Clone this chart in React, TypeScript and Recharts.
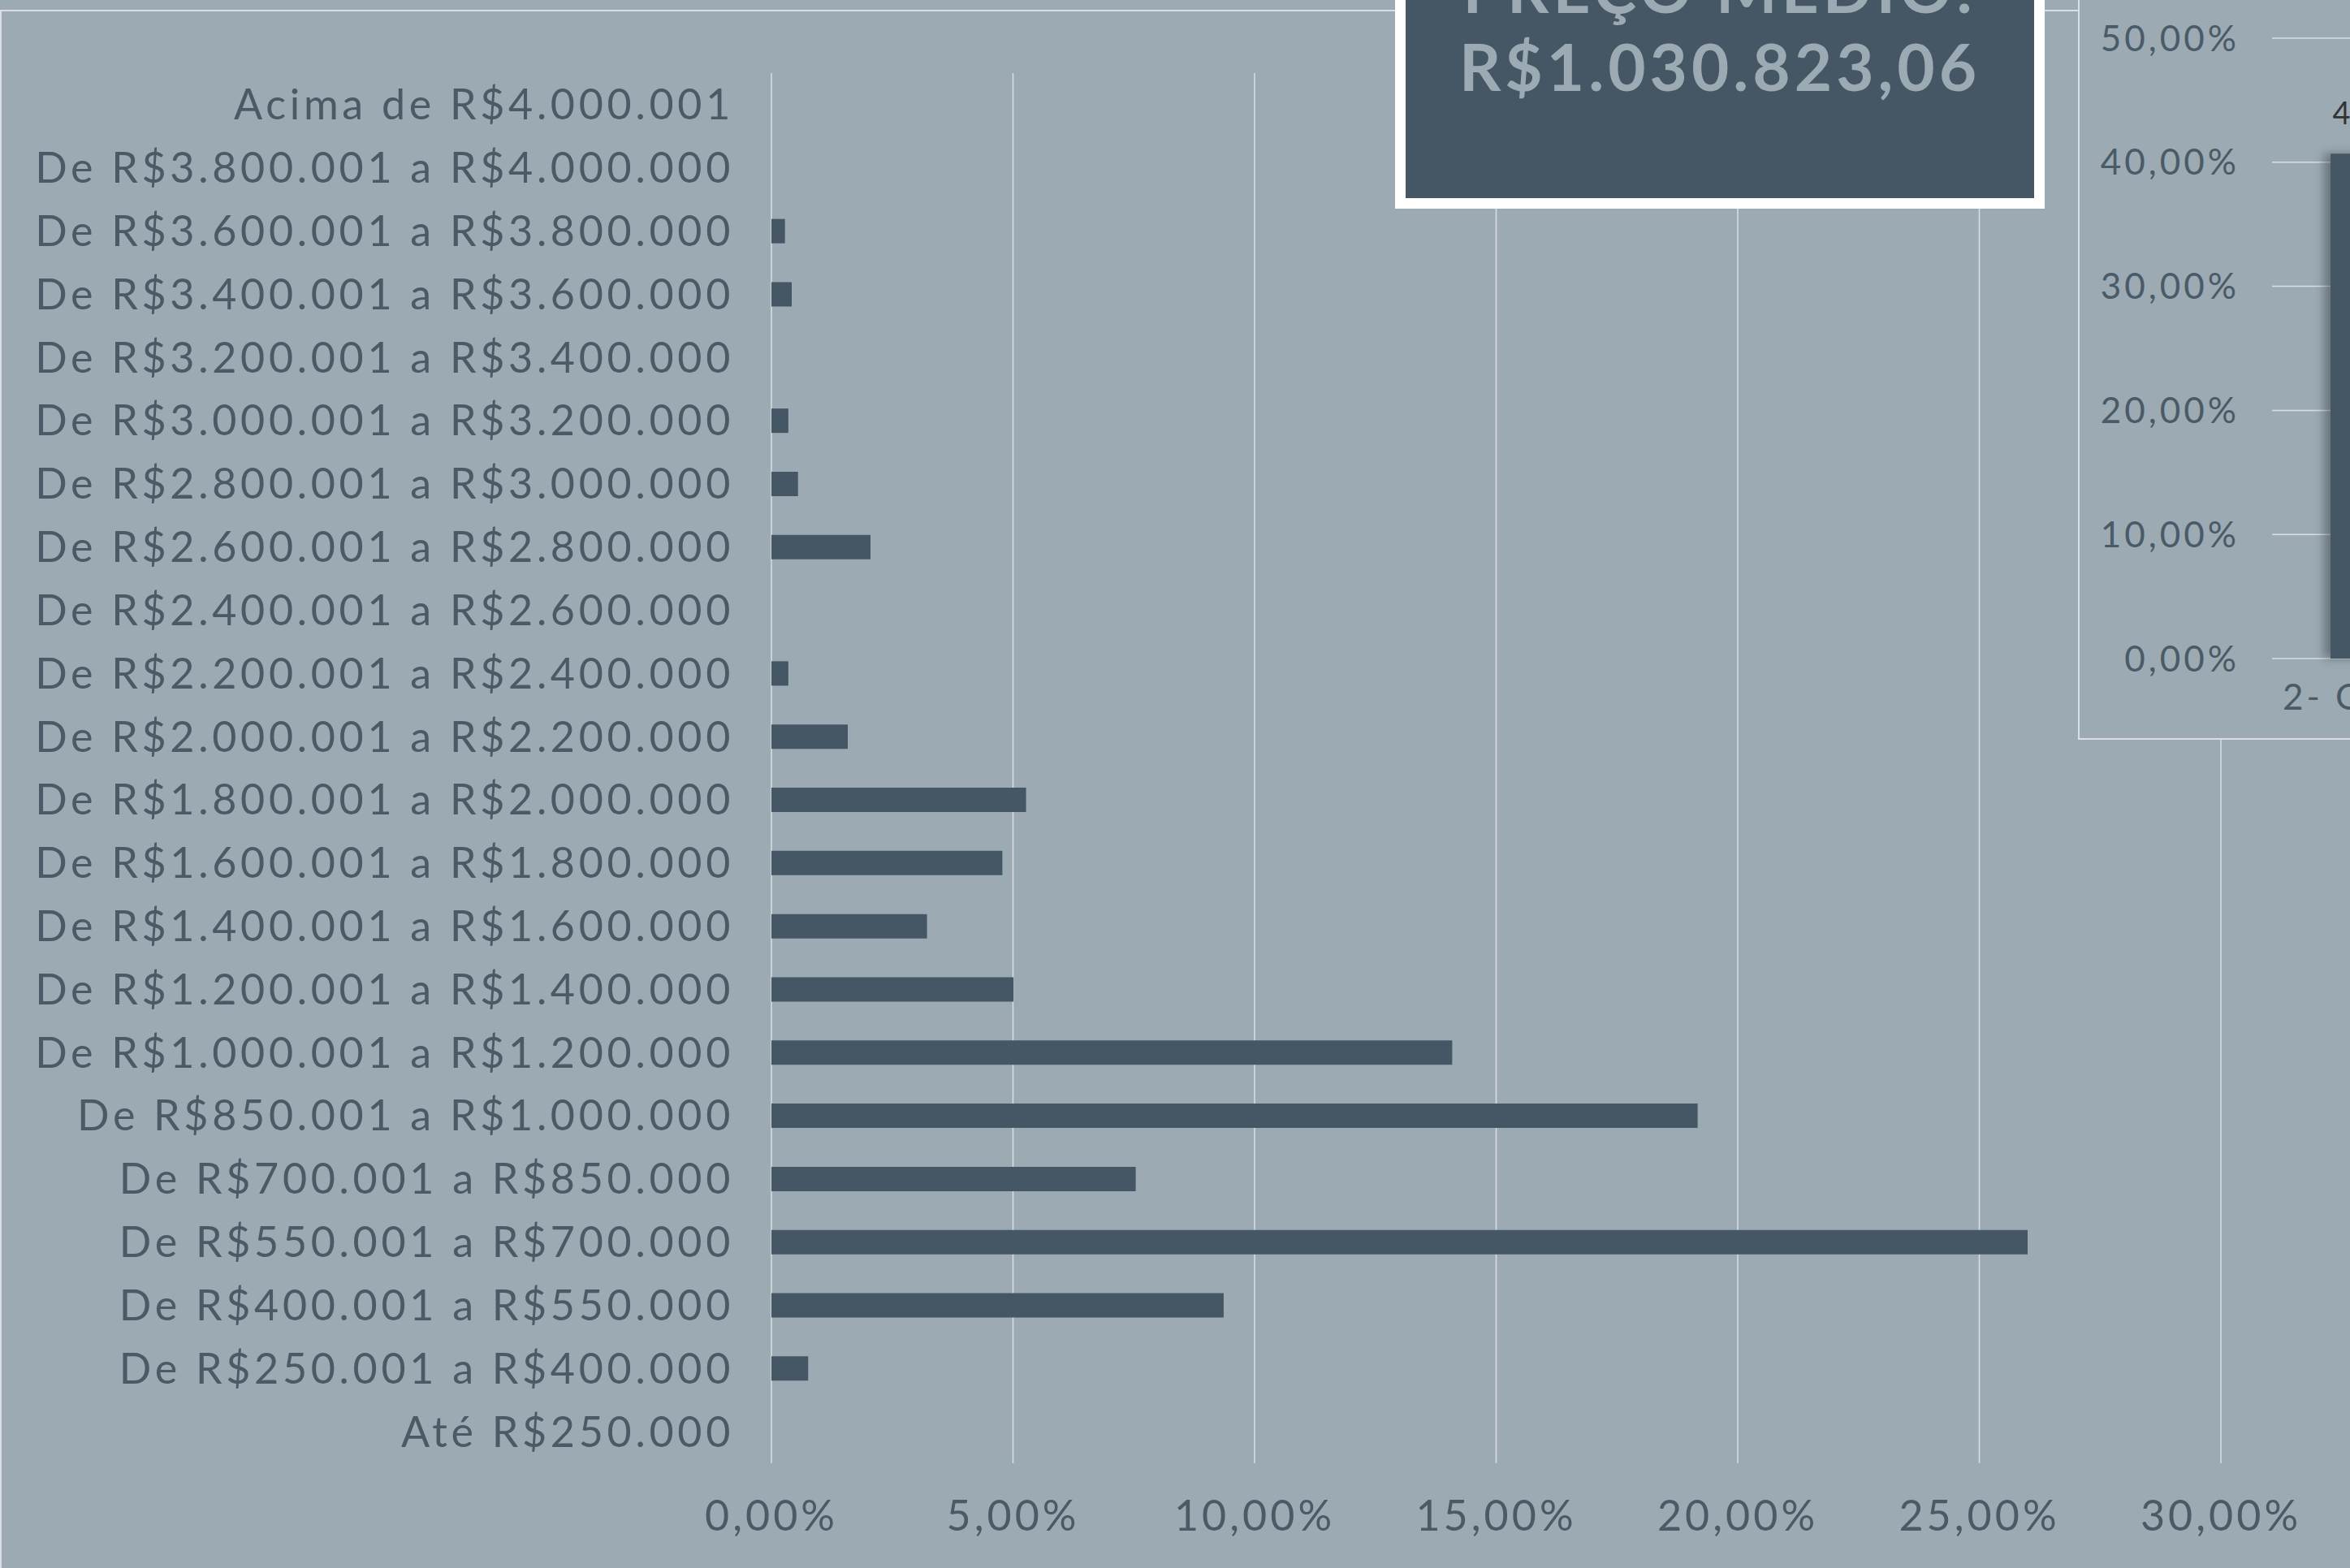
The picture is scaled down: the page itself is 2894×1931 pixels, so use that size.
import { Bar, BarChart, CartesianGrid, LabelList, XAxis, YAxis } from "recharts";

const faixas = [
  "Acima de R$4.000.001",
  "De R$3.800.001 a R$4.000.000",
  "De R$3.600.001 a R$3.800.000",
  "De R$3.400.001 a R$3.600.000",
  "De R$3.200.001 a R$3.400.000",
  "De R$3.000.001 a R$3.200.000",
  "De R$2.800.001 a R$3.000.000",
  "De R$2.600.001 a R$2.800.000",
  "De R$2.400.001 a R$2.600.000",
  "De R$2.200.001 a R$2.400.000",
  "De R$2.000.001 a R$2.200.000",
  "De R$1.800.001 a R$2.000.000",
  "De R$1.600.001 a R$1.800.000",
  "De R$1.400.001 a R$1.600.000",
  "De R$1.200.001 a R$1.400.000",
  "De R$1.000.001 a R$1.200.000",
  "De R$850.001 a R$1.000.000",
  "De R$700.001 a R$850.000",
  "De R$550.001 a R$700.000",
  "De R$400.001 a R$550.000",
  "De R$250.001 a R$400.000",
  "Até R$250.000",
];

// % of units per price range
const percentuais = [
  0, 0, 0.28, 0.42, 0, 0.35, 0.55, 2.05, 0, 0.35, 1.58, 5.27, 4.78, 3.22,
  5.01, 14.09, 19.17, 7.54, 26.0, 9.36, 0.76, 0,
];

const xTicks = [0, 5, 10, 15, 20, 25, 30];

const tipologias = ["2- Quartos"];
const tipologiaPct = [40.69];
const yTicksTipologia = [0, 10, 20, 30, 40, 50];

const precoMedio = "R$1.030.823,06";

const BG = "#9caab3";
const DARK = "#455764";
const TEXT = "#4a5b67";
const GRID = "#d9dfe3";

const pct = (v: number) => v.toFixed(2).replace(".", ",") + "%";

const faixaData = faixas.map((name, i) => ({ name, value: percentuais[i] }));
const tipoData = tipologias.map((name, i) => ({ name, value: tipologiaPct[i] }));

const ShadowBar = (props: any) => {
  const { x, y, width, height, fill } = props;
  if (!height || height <= 0) return null;
  return (
    <rect
      x={x}
      y={y}
      width={width}
      height={height}
      fill={fill}
      style={{ filter: "drop-shadow(-8px 0px 6px rgba(40,50,60,0.45))" }}
    />
  );
};

export default function App() {
  return (
    <div
      style={{
        position: "absolute",
        left: 0,
        top: 0,
        width: 2894,
        height: 1931,
        overflow: "hidden",
        background: BG,
        fontFamily: "Lato, sans-serif",
      }}
    >
      {/* main chart frame */}
      <div
        style={{
          position: "absolute",
          left: 0,
          top: 12,
          width: 2600,
          height: 1950,
          borderTop: `2px solid ${GRID}`,
          borderLeft: `2px solid ${GRID}`,
        }}
      />

      <div style={{ position: "absolute", left: 0, top: 0 }}>
        <BarChart
          width={2894}
          height={1931}
          data={faixaData}
          layout="vertical"
          margin={{ top: 90, right: 159, bottom: 59, left: 0 }}
          barCategoryGap={0}
        >
          <CartesianGrid horizontal={false} stroke={GRID} strokeWidth={1.5} />
          <XAxis
            type="number"
            domain={[0, 30]}
            ticks={xTicks}
            tickFormatter={pct}
            axisLine={false}
            tickLine={false}
            tickMargin={40}
            height={70}
            tick={{ fill: TEXT, fontSize: 52, fontWeight: 400, letterSpacing: 4 }}
          />
          <YAxis
            type="category"
            dataKey="name"
            width={950}
            interval={0}
            axisLine={false}
            tickLine={false}
            tickMargin={40}
            tick={{ fill: TEXT, fontSize: 52, fontWeight: 400, letterSpacing: 4.7 }}
          />
          <Bar dataKey="value" fill={DARK} barSize={30} isAnimationActive={false} />
        </BarChart>
      </div>

      {/* price box */}
      <div
        style={{
          position: "absolute",
          left: 1718,
          top: -120,
          width: 800,
          height: 377,
          boxSizing: "border-box",
          border: "13px solid #ffffff",
          background: DARK,
        }}
      />
      <div
        style={{
          position: "absolute",
          left: 1731,
          top: -63,
          width: 774,
          textAlign: "center",
          fontSize: 80,
          lineHeight: "96px",
          fontWeight: 700,
          color: BG,
          letterSpacing: 5,
        }}
      >
        <div>PREÇO MÉDIO:</div>
        <div>{precoMedio}</div>
      </div>

      {/* right panel */}
      <div
        style={{
          position: "absolute",
          left: 2559,
          top: -10,
          width: 600,
          height: 921,
          boxSizing: "border-box",
          borderLeft: `2px solid ${GRID}`,
          borderBottom: `2px solid ${GRID}`,
          background: BG,
        }}
      />
      <div style={{ position: "absolute", left: 2562, top: 0 }}>
        <BarChart
          width={538}
          height={910}
          data={tipoData}
          margin={{ top: 47, right: 26, bottom: 39, left: 0 }}
        >
          <CartesianGrid vertical={false} stroke={GRID} strokeWidth={1.5} />
          <XAxis
            dataKey="name"
            axisLine={false}
            tickLine={false}
            tickMargin={26}
            height={60}
            tick={{ fill: TEXT, fontSize: 44, fontWeight: 400, letterSpacing: 4 }}
          />
          <YAxis
            type="number"
            domain={[0, 50]}
            ticks={yTicksTipologia}
            tickFormatter={pct}
            width={236}
            axisLine={false}
            tickLine={false}
            tickMargin={34}
            tick={{ fill: TEXT, fontSize: 44, fontWeight: 400, letterSpacing: 4 }}
          />
          <Bar
            dataKey="value"
            fill={DARK}
            barSize={132}
            shape={ShadowBar}
            isAnimationActive={false}
          >
            <LabelList
              dataKey="value"
              position="top"
              offset={36}
              formatter={(v: any) => pct(Number(v))}
              fill="#333333"
              fontSize={38}
            />
          </Bar>
        </BarChart>
      </div>
    </div>
  );
}
